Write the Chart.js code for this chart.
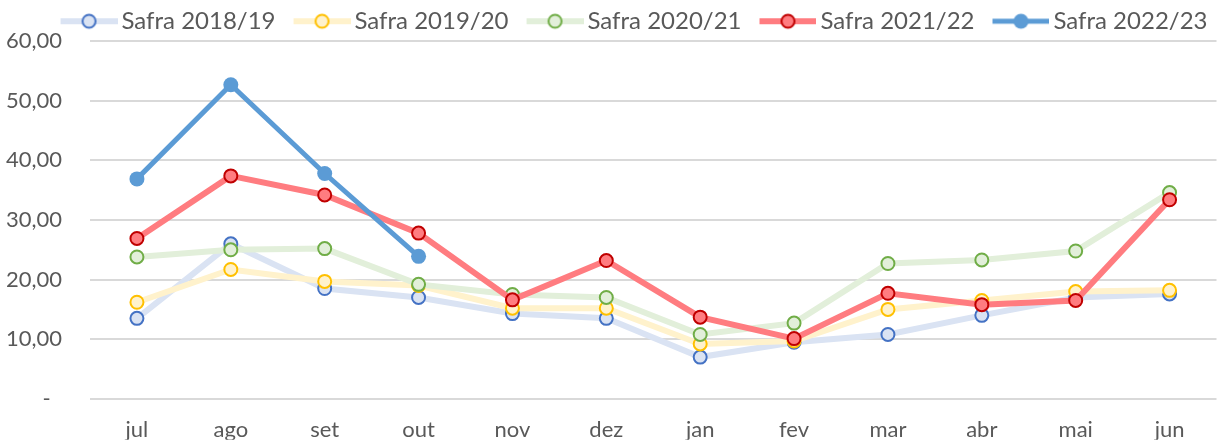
<!DOCTYPE html>
<html>
<head>
<meta charset="utf-8">
<script src="https://cdn.jsdelivr.net/npm/chart.js@4.4.1/dist/chart.umd.min.js"></script>
<style>
html,body{margin:0;padding:0;background:#ffffff;}
#wrap{width:1225px;height:440px;}
</style>
</head>
<body>
<div id="wrap"><canvas id="c" width="1225" height="440"></canvas></div>
<script>
// ---- data ----
const months = ['jul','ago','set','out','nov','dez','jan','fev','mar','abr','mai','jun'];
const seriesNames = ['Safra 2018/19','Safra 2019/20','Safra 2020/21','Safra 2021/22','Safra 2022/23'];
const safra1819 = [13.5, 26.0, 18.5, 17.0, 14.3, 13.5, 7.0, 9.5, 10.8, 14.0, 17.0, 17.6];
const safra1920 = [16.2, 21.7, 19.7, 19.0, 15.2, 15.2, 9.2, 9.7, 15.0, 16.5, 18.0, 18.2];
const safra2021 = [23.8, 25.0, 25.2, 19.2, 17.5, 17.0, 10.8, 12.7, 22.7, 23.3, 24.8, 34.6];
const safra2122 = [26.9, 37.4, 34.2, 27.8, 16.6, 23.2, 13.7, 10.1, 17.7, 15.8, 16.5, 33.4];
const safra2223 = [36.9, 52.7, 37.8, 23.9, null, null, null, null, null, null, null, null];
const yTickLabels = ['-  ', '10,00', '20,00', '30,00', '40,00', '50,00', '60,00'];

// ---- styles ----
const FONT = 'Lato';
const TEXT = '#595959';
const styles = [
  {line:'#DAE3F3', fill:'#DAE3F3', border:'#4472C4', lw:6, r:6.5, bw:2},
  {line:'#FFF2CC', fill:'#FFF2CC', border:'#FFC000', lw:6, r:6.5, bw:2},
  {line:'#E2EFDA', fill:'#E2EFDA', border:'#70AD47', lw:6, r:6.5, bw:2},
  {line:'#FF7C80', fill:'#FF7C80', border:'#C00000', lw:6, r:6.5, bw:2},
  {line:'#5B9BD5', fill:'#5B9BD5', border:'#5B9BD5', lw:5, r:7.5, bw:0}
];
const seriesValues = [safra1819, safra1920, safra2021, safra2122, safra2223];

const LEGEND_SIZE = 24;
const BOXW = 62;
function makeIcon(s) {
  const W = BOXW + 16, H = 18;
  const cv = document.createElement('canvas');
  cv.width = W; cv.height = H;
  const ctx = cv.getContext('2d');
  ctx.strokeStyle = s.line;
  ctx.lineWidth = s.lw;
  ctx.beginPath();
  ctx.moveTo(W - 57, H / 2);
  ctx.lineTo(W, H / 2);
  ctx.stroke();
  const cx = W - 28.5;
  ctx.beginPath();
  ctx.arc(cx, H / 2, s.r, 0, Math.PI * 2);
  ctx.fillStyle = s.fill;
  ctx.fill();
  if (s.bw > 0) {
    ctx.lineWidth = s.bw;
    ctx.strokeStyle = s.border;
    ctx.stroke();
  }
  return cv;
}
const icons = styles.map(makeIcon);

const datasets = seriesNames.map((name, i) => {
  const s = styles[i];
  return {
    label: name,
    data: seriesValues[i],
    borderColor: s.line,
    backgroundColor: s.line,
    borderWidth: s.lw,
    pointRadius: s.r,
    pointHoverRadius: s.r,
    pointBorderWidth: s.bw,
    pointBackgroundColor: s.fill,
    pointBorderColor: s.border,
    tension: 0,
    spanGaps: false,
    order: seriesNames.length - i
  };
});

// nudge the legend block to sit like the original
const legendNudge = {
  id: 'legendNudge',
  afterLayout(chart) {
    const lg = chart.legend;
    if (!lg) return;
    lg.left += 17; lg.right += 17;
    lg.top += 2; lg.bottom += 2;
  }
};

new Chart(document.getElementById('c'), {
  type: 'line',
  data: { labels: months, datasets },
  plugins: [legendNudge],
  options: {
    responsive: false,
    animation: false,
    layout: { padding: { left: 0, right: 4, top: 0, bottom: 0 } },
    plugins: {
      tooltip: { enabled: false },
      legend: {
        position: 'top',
        maxHeight: 39,
        labels: {
          usePointStyle: true,
          pointStyleWidth: BOXW,
          padding: 5,
          color: TEXT,
          font: { family: FONT, size: LEGEND_SIZE },
          generateLabels(chart) {
            return chart.data.datasets.map((ds, i) => ({
              text: ds.label,
              datasetIndex: i,
              pointStyle: icons[i],
              fontColor: TEXT,
              hidden: false,
              lineWidth: 0,
              strokeStyle: 'rgba(0,0,0,0)',
              fillStyle: 'rgba(0,0,0,0)'
            }));
          }
        }
      }
    },
    scales: {
      x: {
        offset: true,
        grid: { display: false, offset: true },
        border: { display: false },
        ticks: { color: TEXT, font: { family: FONT, size: 22 }, padding: 10, maxRotation: 0, autoSkip: false },
        afterFit(s) { s.height = 41; }
      },
      y: {
        min: 0, max: 60,
        grid: { color: '#D9D9D9', lineWidth: 2, drawTicks: false },
        border: { display: false },
        ticks: {
          stepSize: 10,
          color: TEXT,
          font: { family: FONT, size: 22 },
          padding: 28,
          callback: (v, i) => yTickLabels[i]
        },
        afterFit(s) { s.width = 90; }
      }
    }
  }
});
</script>
</body>
</html>
